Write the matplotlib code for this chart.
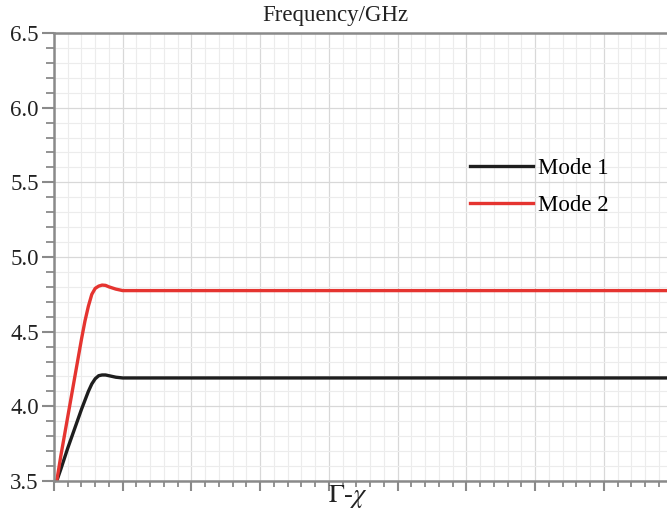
import numpy as np
import matplotlib.pyplot as plt
from matplotlib.ticker import MultipleLocator, NullFormatter

plt.rcParams['font.family'] = ['Liberation Serif', 'DejaVu Serif']
plt.rcParams['mathtext.fontset'] = 'stix'

# (x in major-grid units along Γ-χ)
x_mode1 = [0.04, 0.1, 0.2, 0.3, 0.4, 0.5, 0.55, 0.6, 0.65, 0.7, 0.75, 0.8, 0.9, 1.0, 4.0, 8.92]
y_mode1 = [3.5, 3.58, 3.72, 3.85, 3.98, 4.10, 4.15, 4.185, 4.205, 4.21, 4.21, 4.205, 4.195, 4.19, 4.19, 4.19]
x_mode2 = [0.04, 0.1, 0.2, 0.3, 0.4, 0.45, 0.5, 0.55, 0.6, 0.65, 0.7, 0.75, 0.8, 0.9, 1.0, 4.0, 8.92]
y_mode2 = [3.5, 3.67, 3.93, 4.19, 4.45, 4.57, 4.67, 4.75, 4.79, 4.805, 4.812, 4.81, 4.80, 4.785, 4.775, 4.775, 4.775]
labels = ['Mode 1', 'Mode 2']
colors = ['#1e1e1e', '#e53430']

fig = plt.figure(figsize=(6.67, 5.12), dpi=100)
ax = fig.add_axes([54/667, 1 - 481/512, 1 - 54/667, 448/512])

ax.plot(x_mode1, y_mode1, color=colors[0], lw=2.4, label=labels[0])
ax.plot(x_mode2, y_mode2, color=colors[1], lw=2.4, label=labels[1])

ax.set_xlim(0, 8.92)
ax.set_ylim(3.5, 6.5)
ax.xaxis.set_major_locator(MultipleLocator(1))
ax.xaxis.set_minor_locator(MultipleLocator(0.2))
ax.yaxis.set_major_locator(MultipleLocator(0.5))
ax.yaxis.set_minor_locator(MultipleLocator(0.1))
ax.xaxis.set_major_formatter(NullFormatter())
ax.yaxis.set_major_formatter(plt.FormatStrFormatter('%.1f'))

ax.grid(which='major', color='#d8d8d8', lw=0.9)
ax.grid(which='minor', color='#ececec', lw=0.8)
ax.set_axisbelow(True)

for s in ['left', 'bottom', 'top']:
    ax.spines[s].set_color('#8a8a8a')
    ax.spines[s].set_linewidth(1.8)
ax.spines['right'].set_visible(False)

ax.tick_params(which='major', direction='out', length=7, width=1.5, color='#8a8a8a',
               labelsize=16.5, labelcolor='#222222', pad=2)
ax.tick_params(which='minor', direction='out', length=4, width=1.3, color='#8a8a8a')
ax.tick_params(axis='y', which='minor', length=6)
ax.tick_params(axis='y', which='major', length=9)
ax.tick_params(top=False, right=False, which='both')

fig.text(335/667, 1 - 16/512, 'Frequency/GHz', ha='center', va='center', fontsize=16.5, color='#222222')
fig.text(348/667, 1 - 497/512, r'$\Gamma$-$\chi$', ha='center', va='center', fontsize=19, color='#222222')

ax.legend(loc='upper left', bbox_to_anchor=(449/667, 1 - 137/512), bbox_transform=fig.transFigure,
          frameon=False, fontsize=16.5, handlelength=2.75, labelspacing=0.72, handletextpad=0.25)

fig.savefig('out.png', dpi=100)
